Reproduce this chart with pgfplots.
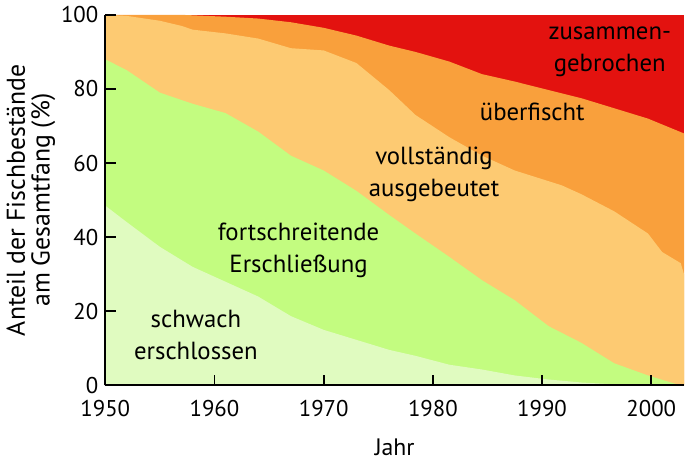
\documentclass[border=0pt]{standalone}
\usepackage{fontspec}
\setmainfont{PT Sans}
\usepackage{pgfplots}
\pgfplotsset{compat=1.18}
\definecolor{rot}{HTML}{E3120F}
\definecolor{orange2}{HTML}{F9A03C}
\definecolor{hellorange}{HTML}{FDCA72}
\definecolor{gruen}{HTML}{C3FC80}
\definecolor{hellgruen}{HTML}{E0FBC0}

\begin{document}
\begin{tikzpicture}
  \begin{axis}[
      scale only axis,
      width=292pt, height=187pt,
      xmin=1950, xmax=2003,
      ymin=0, ymax=100,
      axis x line=bottom, axis y line=left,
      axis line style={-, line width=1pt},
      axis on top,
      tick align=inside,
      major tick length=5.5pt,
      tick style={black, line width=1pt},
      xtick={1950,1960,...,2000},
      ytick={0,20,...,100},
      x tick label style={/pgf/number format/1000 sep={}, yshift=-4pt},
      /pgf/number format/assume math mode=true,
      tick label style={font=\fontsize{11.5}{13}\selectfont},
      xlabel={Jahr},
      ylabel={Anteil der Fischbestände\\am Gesamtfang (\%)},
      ylabel style={align=center, font=\fontsize{13}{12.5}\selectfont},
      ylabel shift=-4pt,
      xlabel style={font=\fontsize{12}{14}\selectfont, yshift=-4pt},
      clip=true,
    ]
    % zusammengebrochen (Rest bis 100)
    \addplot[draw=none, fill=rot] coordinates {
      (1950,100) (2003,100)
    } \closedcycle;
    % ueberfischt (kumuliert)
    \addplot[draw=none, fill=orange2] coordinates {
      (1950,100) (1957,100) (1961,99.5) (1964,99) (1967,98) (1970,96.5)
      (1973,94.4) (1976,91.7) (1978.4,90) (1981.5,87.4) (1984.5,84)
      (1987.5,82) (1990.6,79.7) (1993.6,77.5) (1996.6,74.8) (1999.7,72)
      (2003,68)
    } \closedcycle;
    % vollstaendig ausgebeutet (kumuliert)
    \addplot[draw=none, fill=hellorange] coordinates {
      (1950,100) (1952,99.7) (1955,98.4) (1957,97) (1958,96) (1961,95)
      (1964,93.6) (1967,91) (1970,90.4) (1973,87) (1976,79.7) (1978.4,73)
      (1981.5,67) (1984.5,62) (1987.5,58) (1991.8,54) (1993.6,51.6)
      (1996.6,47) (1999.7,41) (2001,36) (2002.7,33) (2003,30)
    } \closedcycle;
    % fortschreitende Erschliessung (kumuliert)
    \addplot[draw=none, fill=gruen] coordinates {
      (1950,88) (1952,85) (1955,79) (1958,76) (1961,73.5) (1964,68.5)
      (1967,62) (1970,58) (1973,52.5) (1976,46) (1978.4,41) (1981.5,34.7)
      (1984.5,28.4) (1987.5,23) (1990.6,16) (1993.6,11.5) (1996.6,6)
      (1999.7,2.7) (2002.7,0) (2003,0)
    } \closedcycle;
    % schwach erschlossen
    \addplot[draw=none, fill=hellgruen] coordinates {
      (1950,48.5) (1952,44) (1955,37.4) (1958,32) (1961,28) (1964,24)
      (1967,18.7) (1970,15) (1973,12.3) (1976,9.6) (1978.4,8) (1981.5,5.6)
      (1984.5,4.3) (1987.5,2.7) (1990.6,1.6) (1993.6,0.8) (1996.6,0.3)
      (1999.7,0) (2003,0)
    } \closedcycle;

    \begin{scope}[every node/.style={align=center, font=\fontsize{12.5}{16}\selectfont}]
      \node at (axis cs:1996.2,90) {zusammen-\\gebrochen};
      \node at (axis cs:1989.1,73.8) {überfischt};
      \node at (axis cs:1980.1,57) {vollständig\\ausgebeutet};
      \node at (axis cs:1967.7,36.4) {fortschreitende\\Erschließung};
      \node at (axis cs:1958.3,13.6) {schwach\\erschlossen};
    \end{scope}
  \end{axis}
\end{tikzpicture}
\end{document}
